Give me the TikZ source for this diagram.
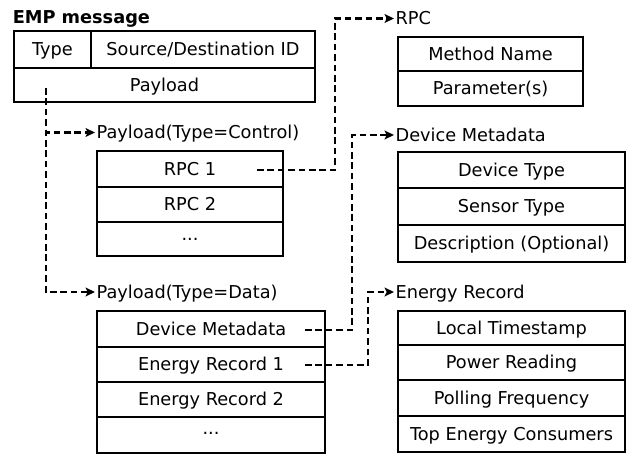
\documentclass[tikz,border=0pt]{standalone}
\usepackage{fontspec}
\setmainfont{DejaVu Sans}
\usetikzlibrary{arrows.meta}
\tikzset{
	box/.style={line width=2pt},
	link/.style={line width=1.8pt, dash pattern=on 5pt off 2.8pt, -{Stealth[length=7pt,width=6.5pt,inset=1.5pt]}},
	cell/.style={inner sep=0pt, text height=9.3pt, text depth=0pt},
	tag/.style={anchor=west, inner sep=1pt, text height=9.3pt, text depth=0pt},
}

\begin{document}
\begin{tikzpicture}[x=0.75pt, y=-0.75pt, font=\fontsize{13.3}{16}\selectfont]
			%%%%% START %%%%%
			\useasboundingbox (0,0) rectangle (630,456);
			
			% EMP message
			\node[tag, font=\fontsize{13.3}{16}\selectfont\bfseries, inner sep=0pt] (emp) at (12.5,17) {EMP message};
			\draw[box] (14,31) rectangle (315,102);
			\draw[box] (14,68) -- (315,68);
			\draw[box] (91,31) -- (91,68);
			\node[cell] (type) at (52.5,49.5) {Type};
			\node[cell] (srcdst) at (203,49.5) {Source/Destination ID};
			\node[cell] (payload) at (164.5,85) {Payload};
			\coordinate (payloadout) at (46,88);
			
			% payload, type = control
			\node[tag] (ctrltag) at (95,132.5) {Payload(Type=Control)};
			\draw[box] (97,151) rectangle (283,256);
			\draw[box] (97,187) -- (283,187);
			\draw[box] (97,222) -- (283,222);
			\node[cell] (rpc1) at (190,169) {RPC 1};
			\node[cell] (rpc2) at (190,204.5) {RPC 2};
			\node[inner sep=0pt] (rpcmore) at (190,239.5) {...};
			\coordinate (rpcout) at (257,170);
			\coordinate (rpcbend) at (335,170);
			
			% payload, type = data
			\node[tag] (datatag) at (95,292) {Payload(Type=Data)};
			\draw[box] (97,311) rectangle (325,453);
			\draw[box] (97,347) -- (325,347);
			\draw[box] (97,382) -- (325,382);
			\draw[box] (97,417) -- (325,417);
			\node[cell] (meta) at (211,329) {Device Metadata};
			\node[cell] (rec1) at (211,364.5) {Energy Record 1};
			\node[cell] (rec2) at (211,399.5) {Energy Record 2};
			\node[inner sep=0pt] (recmore) at (211,433.5) {...};
			\coordinate (metaout) at (305,330);
			\coordinate (metabend) at (352,330);
			\coordinate (recout) at (305,365);
			\coordinate (recbend) at (368,365);
			
			% RPC
			\node[tag] (rpctag) at (394,18.5) {RPC};
			\draw[box] (398,37) rectangle (583,106);
			\draw[box] (398,71) -- (583,71);
			\node[cell] (method) at (490.5,54) {Method Name};
			\node[cell] (params) at (490.5,88.5) {Parameter(s)};
			
			% device metadata
			\node[tag] (metatag) at (394,135) {Device Metadata};
			\draw[box] (398,152) rectangle (625,262);
			\draw[box] (398,188) -- (625,188);
			\draw[box] (398,225) -- (625,225);
			\node[cell] (devtype) at (511.5,170) {Device Type};
			\node[cell] (sensor) at (511.5,206.5) {Sensor Type};
			\node[cell] (descr) at (511.5,243.5) {Description (Optional)};
			
			% energy record
			\node[tag] (rectag) at (394,292) {Energy Record};
			\draw[box] (398,311) rectangle (625,452);
			\draw[box] (398,345) -- (625,345);
			\draw[box] (398,380) -- (625,380);
			\draw[box] (398,416) -- (625,416);
			\node[cell] (stamp) at (511.5,328) {Local Timestamp};
			\node[cell] (power) at (511.5,362.5) {Power Reading};
			\node[cell] (polling) at (511.5,398) {Polling Frequency};
			\node[cell] (top) at (511.5,434) {Top Energy Consumers};
			
			% links
			\draw[link] (payloadout) |- (ctrltag.west);
			\draw[link] (payloadout) |- (datatag.west);
			\draw[link] (rpcout) -- (rpcbend) |- (rpctag.west);
			\draw[link] (metaout) -- (metabend) |- (metatag.west);
			\draw[link] (recout) -- (recbend) |- (rectag.west);
			%%%%% END %%%%%
		\end{tikzpicture}
\end{document}
